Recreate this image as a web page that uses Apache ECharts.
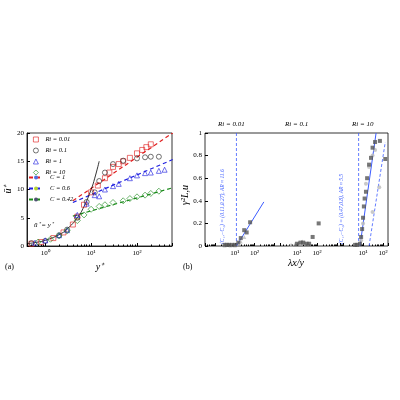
<!DOCTYPE html>
<html><head><meta charset="utf-8">
<script src="https://cdn.jsdelivr.net/npm/echarts@6/dist/echarts.min.js"></script>
<style>body{margin:0;background:#fff}#c{width:400px;height:400px}</style>
</head><body><div id="c"></div>
<script>
// panel (a): mean velocity profiles
var ri001 = [[0.5,0.4],[0.8,0.7],[1.5,1.4],[2.5,2.4],[4,3.8],[5,5.2],[7,7.3],[10,9.5],[14,10.7],[20,12],[25,13],[30,14],[40,14.5],[50,15],[70,15.6],[100,16.4],[130,17],[160,17.5],[200,18]];
var ri01 = [[0.5,0.5],[1,0.9],[2,1.9],[3,2.9],[5,5],[8,7.8],[12,9.5],[15,11.5],[20,13],[30,14.5],[50,15.1],[100,15.5],[150,15.7],[200,15.8],[300,15.8]];
var ri1 = [[0.6,0.6],[1,1],[2,1.9],[3,2.8],[5,5.5],[8,7.5],[12,9],[15,8.8],[20,10],[30,10.6],[40,11],[70,12],[100,12.5],[150,12.9],[200,13],[300,13.3],[400,13.5]];
var ri10 = [[0.7,0.7],[1.3,1.2],[2,1.8],[3,2.7],[5,4.5],[7,5.5],[10,6.5],[15,7],[20,7.3],[30,7.7],[50,8],[70,8.4],[100,8.7],[150,9],[200,9.3],[300,9.7]];
var lawC1 = [[4,8],[600,20]];
var lawC06 = [[4,7.7],[600,15.3]];
var lawC042 = [[4,5.3],[600,10.3]];
var viscous = [[0.4,0.4],[0.7,0.7],[1,1],[2,2],[3,3],[5,5],[7,7],[10,10],[12,12],[15,15]];
// panel (b): coherence spectra, three Ri cases
var riLabels = ['Ri = 0.01', 'Ri = 0.1', 'Ri = 10'];
var b1Sq = [[3,0.01],[4,0.01],[5,0.01],[7,0.01],[10,0.01],[15,0.03],[20,0.07],[30,0.14],[40,0.12],[60,0.21]];
var b1Tri = [[3,0.005],[6,0.005],[10,0.005],[20,0.04],[30,0.08]];
var b1Fit = [[12,0],[300,0.39]];
var b1Cut = [[12,0],[12,1]];
var b2Sq = [[10,0.02],[15,0.03],[20,0.03],[30,0.02],[40,0.02],[60,0.08],[120,0.2]];
var b2Tri = [[5,0.01],[8,0.02],[12,0.03],[18,0.04],[25,0.03],[35,0.02]];
var b3Sq = [[4,0.01],[5,0.01],[7,0.02],[8,0.08],[9,0.15],[10,0.25],[11,0.35],[12,0.42],[14,0.48],[16,0.6],[20,0.72],[25,0.78],[30,0.87],[40,0.92],[70,0.93],[130,0.77]];
var b3Tri = [[5,0.01],[8,0.05],[10,0.2],[14,0.55],[20,0.7],[30,0.8],[40,0.85],[65,0.52],[30,0.3]];
var b3Fit = [[7,0],[45,1]];
var b3Fit2 = [[20,0],[130,0.92]];
var b3Cut = [[6,0],[6,1]];

var F = 'Liberation Serif';
var SUP = ['⁰', '¹', '²', '³'];
function sc(name, sym, col, data, sz) {
  return {name: name, type: 'scatter', symbol: sym, symbolSize: sz || 5, data: data,
    itemStyle: {color: 'rgba(0,0,0,0)', borderColor: col, borderWidth: 0.8}, z: 3};
}
function ln(name, col, data, type, w, gi) {
  return {name: name, type: 'line', data: data, showSymbol: false, symbol: 'none',
    xAxisIndex: gi, yAxisIndex: gi,
    lineStyle: {color: col, type: type, width: w}, z: 2};
}
function fill(col, data, gi, sym) {
  return {type: 'scatter', symbol: sym, symbolSize: 4, data: data, xAxisIndex: gi, yAxisIndex: gi,
    itemStyle: {color: col}, z: 3};
}
var grids = [
  {left: 27, top: 133, width: 145, height: 113, show: true, borderColor: '#000', borderWidth: 0.8},
  {left: 205, top: 133, width: 75, height: 113},
  {left: 280, top: 133, width: 60, height: 113},
  {left: 340, top: 133, width: 48, height: 113},
  {left: 205, top: 133, width: 183, height: 113, show: true, borderColor: '#000', borderWidth: 0.8}
];
function logLab(keep) {
  return function (v) {
    var l = Math.log10(v), e = Math.round(l);
    return (Math.abs(l - e) < 1e-6 && keep.indexOf(e) >= 0) ? '10' + SUP[e] : '';
  };
}
function bx(gi, mn, mx, keep) {
  return {type: 'log', gridIndex: gi, min: mn, max: mx, logBase: 10,
    axisLine: {show: false}, axisTick: {show: true, inside: true, length: 3, lineStyle: {color: '#000'}},
    minorTick: {show: true, splitNumber: 9, length: 1.5, lineStyle: {color: '#000'}},
    splitLine: {show: false},
    axisLabel: {fontFamily: F, fontSize: 7, color: '#000', formatter: logLab(keep), margin: 4}};
}
function by(gi) {
  return {type: 'value', gridIndex: gi, min: 0, max: 1, interval: 0.2,
    axisLine: {show: false}, axisTick: {show: false}, splitLine: {show: false},
    axisLabel: {show: false}};
}
var xa = [bx(0, 0.4, 580, [0, 1, 2]), bx(1, 0.3, 2000, [1, 2]), bx(2, 1.4, 1400, [1, 2]), bx(3, 0.7, 178, [1, 2]),
  {type: 'value', gridIndex: 4, min: 0, max: 1, show: false}];
xa[0].name = 'y⁺'; xa[0].nameLocation = 'middle'; xa[0].nameGap = 16;
xa[0].nameTextStyle = {fontFamily: F, fontStyle: 'italic', fontSize: 10, color: '#000'};
xa[0].axisLine = {show: true, lineStyle: {color: '#000', width: 0.8}};
var ya = [by(0), by(1), by(2), by(3), {type: 'value', gridIndex: 4, min: 0, max: 1, interval: 0.2,
  axisLine: {show: false}, splitLine: {show: false},
  axisTick: {inside: true, length: 3, lineStyle: {color: '#000'}},
  axisLabel: {fontFamily: F, fontSize: 7, color: '#000', margin: 3,
    formatter: function (v) { return v === 0 || v === 1 ? String(v) : v.toFixed(1); }}}];
ya[0] = {type: 'value', gridIndex: 0, min: 0, max: 20, interval: 5,
  axisLine: {show: true, lineStyle: {color: '#000', width: 0.8}},
  axisTick: {inside: true, length: 3, lineStyle: {color: '#000'}}, splitLine: {show: false},
  axisLabel: {fontFamily: F, fontSize: 7, color: '#000', margin: 3},
  name: 'ū⁺', nameLocation: 'middle', nameGap: 14,
  nameTextStyle: {fontFamily: F, fontStyle: 'italic', fontSize: 10, color: '#000'}};
var blue = '#3b5bff';
var legText = {fontFamily: F, fontSize: 6.5, fontStyle: 'italic', color: '#000', padding: [0, 0, 0, 2]};
var chart = echarts.init(document.getElementById('c'));
chart.setOption({
  animation: false,
  grid: grids, xAxis: xa, yAxis: ya,
  legend: [
    {data: ['Ri = 0.01', 'Ri = 0.1', 'Ri = 1', 'Ri = 10'],
      orient: 'vertical', left: 33, top: 136, itemWidth: 5, itemHeight: 5, itemGap: 4, padding: 0,
      itemStyle: {borderWidth: 0.8}, textStyle: legText},
    {data: ['C = 1', 'C = 0.6', 'C = 0.42'],
      orient: 'vertical', left: 28, top: 174, itemWidth: 14, itemHeight: 5, itemGap: 4, padding: 0,
      textStyle: legText}
  ],
  graphic: [
    {type: 'text', left: 5, top: 263, style: {text: '(a)', font: '8px ' + F}},
    {type: 'text', left: 183, top: 263, style: {text: '(b)', font: '8px ' + F}},
    {type: 'text', left: 34, top: 222, style: {text: 'ū⁺ = y⁺', font: 'italic 7px ' + F}},
    {type: 'text', left: 288, top: 258, style: {text: 'λx/y', font: 'italic 10px ' + F}},
    {type: 'text', x: 180, y: 205, rotation: Math.PI / 2, style: {text: 'γ²L,u', font: 'italic 10px ' + F}},
    {type: 'text', left: 218, top: 121, style: {text: riLabels[0], font: 'italic 7px ' + F}},
    {type: 'text', left: 285, top: 121, style: {text: riLabels[1], font: 'italic 7px ' + F}},
    {type: 'text', left: 352, top: 121, style: {text: riLabels[2], font: 'italic 7px ' + F}},
    {type: 'text', x: 220, y: 244, rotation: Math.PI / 2, style: {text: '(C₁,−C₂) = (0.11,0.27), AR ≈ 11.6', font: 'italic 5.5px ' + F, fill: blue}},
    {type: 'text', x: 339, y: 244, rotation: Math.PI / 2, style: {text: '(C₁,−C₂) = (0.47,0.8), AR ≈ 5.5', font: 'italic 5.5px ' + F, fill: blue}}
  ],
  series: [
    sc('Ri = 0.01', 'rect', '#e02020', ri001),
    sc('Ri = 0.1', 'circle', '#222', ri01),
    sc('Ri = 1', 'triangle', '#2020e0', ri1),
    sc('Ri = 10', 'diamond', '#1a8a1a', ri10, 6),
    ln('C = 1', '#e02020', lawC1, [4, 3], 1.2, 0),
    ln('C = 0.6', '#2020e0', lawC06, [4, 3], 1.2, 0),
    ln('C = 0.42', '#1a8a1a', lawC042, [4, 3], 1.2, 0),
    Object.assign(ln('', '#000', viscous, 'solid', 0.8, 0), {smooth: true}),
    fill('#bbb', b1Tri, 1, 'triangle'), fill('#555', b1Sq, 1, 'rect'),
    ln('', blue, b1Fit, 'solid', 1, 1), ln('', blue, b1Cut, [3, 2], 0.8, 1),
    fill('#bbb', b2Tri, 2, 'triangle'), fill('#555', b2Sq, 2, 'rect'),
    fill('#bbb', b3Tri, 3, 'circle'), fill('#555', b3Sq, 3, 'rect'),
    ln('', blue, b3Fit, 'solid', 1, 3), ln('', blue, b3Fit2, [3, 2], 0.8, 3), ln('', blue, b3Cut, [3, 2], 0.8, 3)
  ]
});
</script></body></html>
